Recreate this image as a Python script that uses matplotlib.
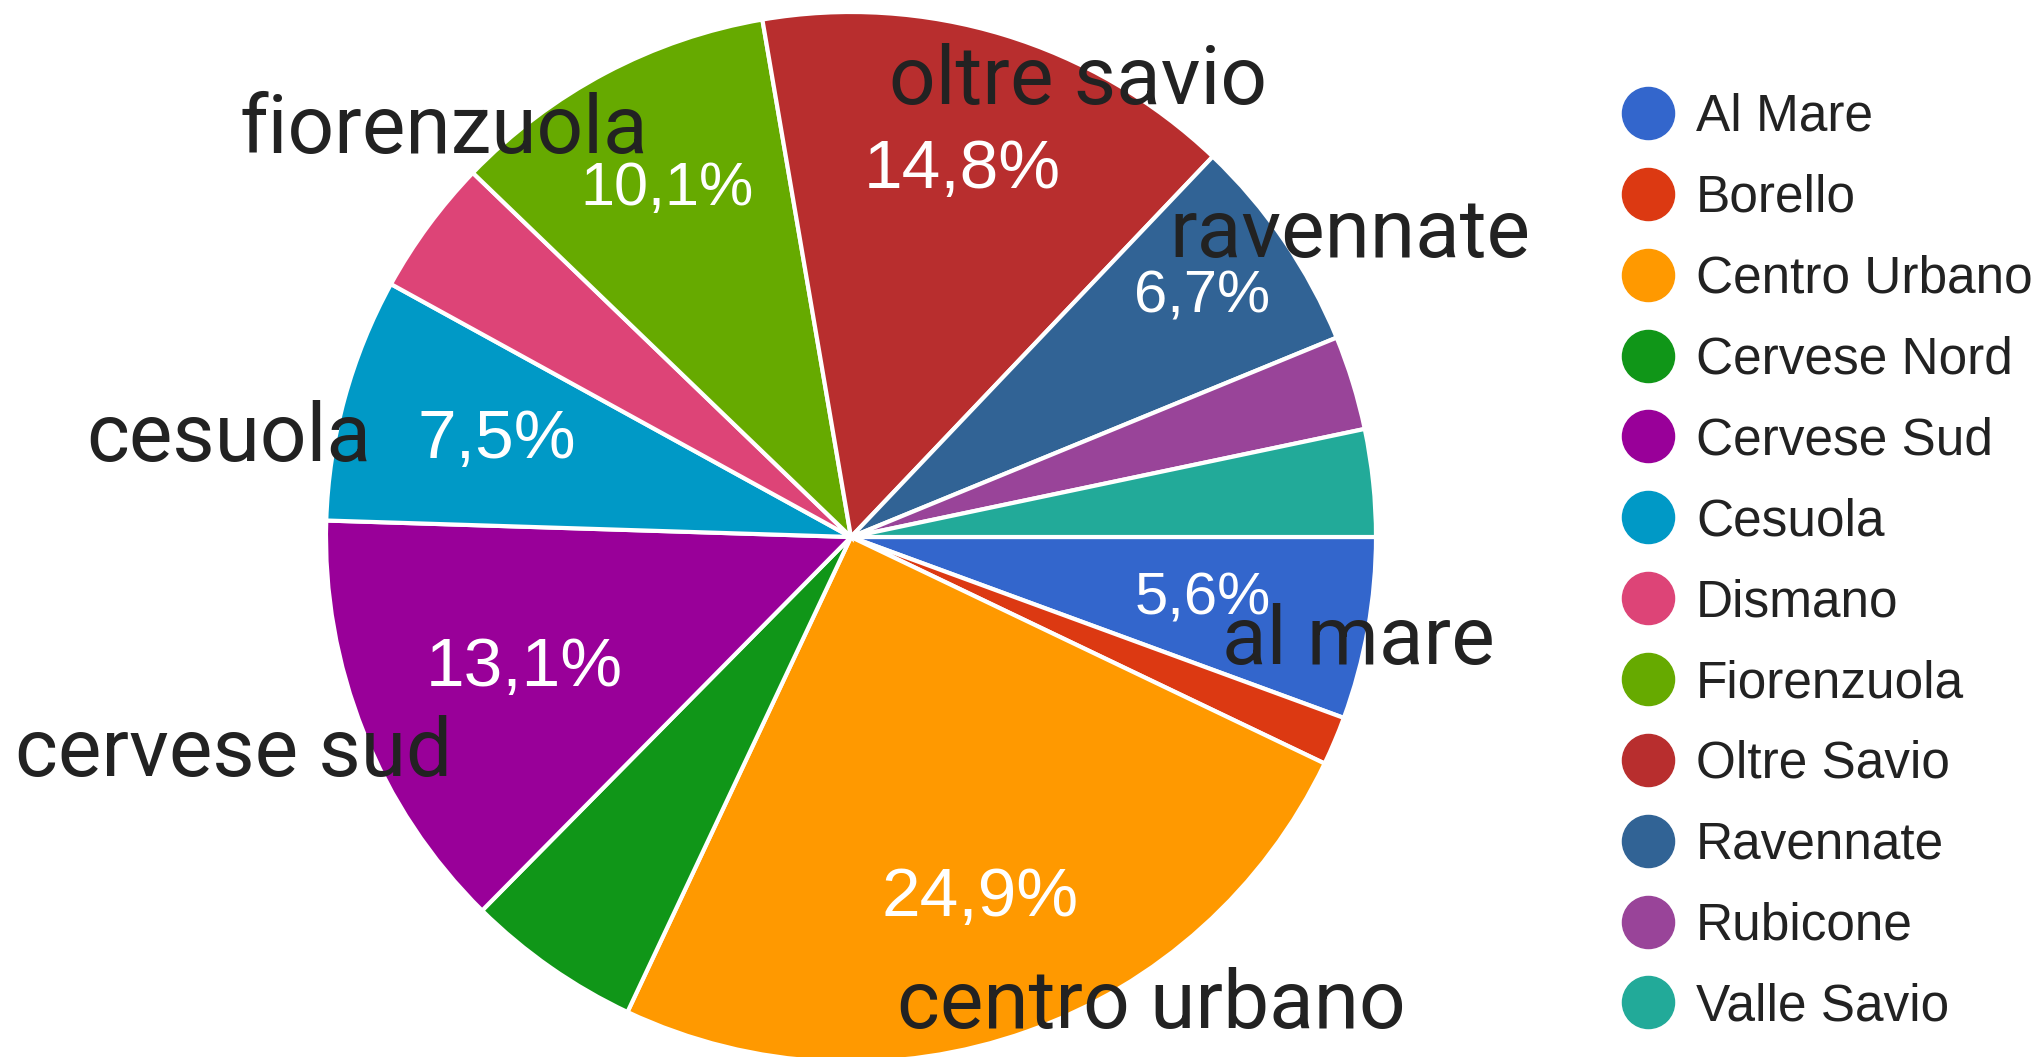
import matplotlib.pyplot as plt
from matplotlib.lines import Line2D
import numpy as np

# quartieri (percentuali)
labels = ['Al Mare', 'Borello', 'Centro Urbano', 'Cervese Nord', 'Cervese Sud', 'Cesuola',
          'Dismano', 'Fiorenzuola', 'Oltre Savio', 'Ravennate', 'Rubicone', 'Valle Savio']
values = [5.6, 1.5, 24.9, 5.4, 13.1, 7.5, 4.2, 10.1, 14.8, 6.7, 2.9, 3.3]
colors = ['#3366cc', '#dc3912', '#ff9900', '#109618', '#990099', '#0099c6',
          '#dd4477', '#66aa00', '#b82e2e', '#316395', '#994499', '#22aa99']

# slices that show a percentage: (distance from centre, font size)
shown_pct = {'Al Mare': (0.68, 43), 'Centro Urbano': (0.73, 50), 'Cervese Sud': (0.67, 50),
             'Cesuola': (0.70, 50), 'Fiorenzuola': (0.75, 44), 'Oltre Savio': (0.73, 50),
             'Ravennate': (0.81, 43)}

# big names put on top of the chart
names = ['oltre savio', 'fiorenzuola', 'ravennate', 'cesuola', 'cervese sud', 'al mare', 'centro urbano']
name_x = [1078, 444, 1350, 229, 234, 1358, 1151]
name_base = [104, 153, 257, 461, 776, 664, 1028]   # baseline, px from top

W, H = 2035, 1057
fig = plt.figure(figsize=(W / 100, H / 100), dpi=100)
ax = fig.add_axes([0, 0, 1, 1])

cx, cy, r = 851, H - 537, 525
wedges, _ = ax.pie(values, colors=colors, startangle=0, counterclock=False,
                   center=(cx, cy), radius=r,
                   wedgeprops=dict(edgecolor='white', linewidth=3))
ax.set_xlim(0, W)
ax.set_ylim(0, H)
ax.set_aspect('equal')
ax.axis('off')

for w, lab, v in zip(wedges, labels, values):
    if lab not in shown_pct:
        continue
    dist, fs = shown_pct[lab]
    mid = np.deg2rad((w.theta1 + w.theta2) / 2)
    d = dist * r
    ax.text(cx + d * np.cos(mid), cy + d * np.sin(mid), f'{v:.1f}'.replace('.', ',') + '%',
            color='white', fontsize=fs, family='Liberation Sans', ha='center', va='center')

for t, x, b in zip(names, name_x, name_base):
    ax.text(x, H - b, t, fontsize=59, family='Roboto', color='#222222',
            ha='center', va='baseline')

handles = [Line2D([], [], marker='o', linestyle='none', markersize=37.5,
                  markerfacecolor=c, markeredgecolor=c) for c in colors]
leg = fig.legend(handles, labels, loc='upper left',
                 bbox_to_anchor=(1622 / W, 1 - 93 / H),
                 frameon=False, borderpad=0, borderaxespad=0,
                 handlelength=1.0, handletextpad=0.44, labelspacing=0.62,
                 prop={'family': 'Liberation Sans', 'size': 37})
for txt in leg.get_texts():
    txt.set_color('#222222')

fig.savefig('out.png', dpi=100, facecolor='white')
